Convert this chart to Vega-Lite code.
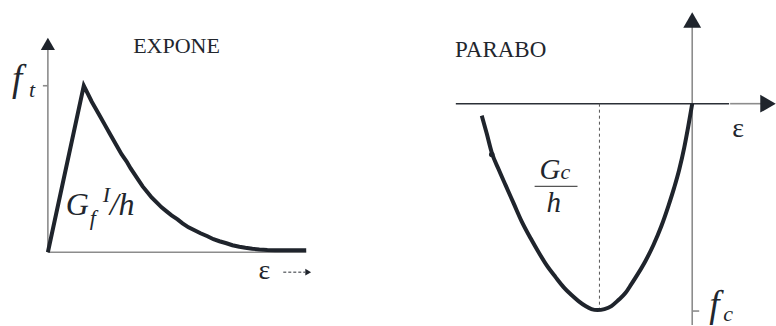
{
  "$schema": "https://vega.github.io/schema/vega-lite/v6.json",
  "width": 776,
  "height": 326,
  "autosize": {"type": "fit", "contains": "padding"},
  "padding": 0,
  "background": "white",
  "config": {"view": {"stroke": null}},
  "encoding": {
    "x": {"field": "x", "type": "quantitative", "scale": {"domain": [0, 776]}, "axis": null},
    "y": {"field": "y", "type": "quantitative", "scale": {"domain": [0, 326], "reverse": true}, "axis": null}
  },
  "layer": [
    {
      "data": {"values": [
        {"x": 48, "y": 253, "x2": 48, "y2": 48},
        {"x": 48, "y": 253, "x2": 307, "y2": 253},
        {"x": 43, "y": 86, "x2": 48, "y2": 86},
        {"x": 694, "y": 26, "x2": 694, "y2": 326},
        {"x": 732, "y": 104, "x2": 763, "y2": 104},
        {"x": 694, "y": 312, "x2": 701, "y2": 312}
      ]},
      "mark": {"type": "rule", "color": "#8c8c8c", "strokeWidth": 1.6},
      "encoding": {"x2": {"field": "x2"}, "y2": {"field": "y2"}}
    },
    {
      "data": {"values": [
        {"x": 457, "y": 104, "x2": 731, "y2": 104}
      ]},
      "mark": {"type": "rule", "color": "#2b2f36", "strokeWidth": 1.6},
      "encoding": {"x2": {"field": "x2"}, "y2": {"field": "y2"}}
    },
    {
      "data": {"values": [
        {"x": 601, "y": 104, "x2": 601, "y2": 310}
      ]},
      "mark": {"type": "rule", "color": "#555555", "strokeWidth": 1, "strokeDash": [3, 3]},
      "encoding": {"x2": {"field": "x2"}, "y2": {"field": "y2"}}
    },
    {
      "data": {"values": [
        {"x": 284, "y": 273, "x2": 306, "y2": 273}
      ]},
      "mark": {"type": "rule", "color": "#2b2f36", "strokeWidth": 1, "strokeDash": [3, 2]},
      "encoding": {"x2": {"field": "x2"}, "y2": {"field": "y2"}}
    },
    {
      "data": {"values": [
        {"c": "EXPONE", "o": 1, "x": 48, "y": 253},
        {"c": "EXPONE", "o": 2, "x": 84, "y": 86},
        {"c": "EXPONE", "o": 3, "x": 88, "y": 94},
        {"c": "EXPONE", "o": 4, "x": 92, "y": 102},
        {"c": "EXPONE", "o": 5, "x": 96, "y": 109},
        {"c": "EXPONE", "o": 6, "x": 100, "y": 116},
        {"c": "EXPONE", "o": 7, "x": 105, "y": 125},
        {"c": "EXPONE", "o": 8, "x": 110, "y": 134},
        {"c": "EXPONE", "o": 9, "x": 114, "y": 141},
        {"c": "EXPONE", "o": 10, "x": 118, "y": 148},
        {"c": "EXPONE", "o": 11, "x": 122, "y": 155},
        {"c": "EXPONE", "o": 12, "x": 127, "y": 162},
        {"c": "EXPONE", "o": 13, "x": 131, "y": 169},
        {"c": "EXPONE", "o": 14, "x": 135, "y": 175},
        {"c": "EXPONE", "o": 15, "x": 139, "y": 181},
        {"c": "EXPONE", "o": 16, "x": 143, "y": 187},
        {"c": "EXPONE", "o": 17, "x": 148, "y": 193},
        {"c": "EXPONE", "o": 18, "x": 152, "y": 198},
        {"c": "EXPONE", "o": 19, "x": 157, "y": 203},
        {"c": "EXPONE", "o": 20, "x": 162, "y": 208},
        {"c": "EXPONE", "o": 21, "x": 167, "y": 212},
        {"c": "EXPONE", "o": 22, "x": 172, "y": 216},
        {"c": "EXPONE", "o": 23, "x": 178, "y": 220},
        {"c": "EXPONE", "o": 24, "x": 183, "y": 224},
        {"c": "EXPONE", "o": 25, "x": 189, "y": 228},
        {"c": "EXPONE", "o": 26, "x": 195, "y": 231},
        {"c": "EXPONE", "o": 27, "x": 201, "y": 234},
        {"c": "EXPONE", "o": 28, "x": 208, "y": 237},
        {"c": "EXPONE", "o": 29, "x": 214, "y": 240},
        {"c": "EXPONE", "o": 30, "x": 220, "y": 242},
        {"c": "EXPONE", "o": 31, "x": 227, "y": 244},
        {"c": "EXPONE", "o": 32, "x": 233, "y": 246},
        {"c": "EXPONE", "o": 33, "x": 240, "y": 247.5},
        {"c": "EXPONE", "o": 34, "x": 246, "y": 248.5},
        {"c": "EXPONE", "o": 35, "x": 253, "y": 249.5},
        {"c": "EXPONE", "o": 36, "x": 260, "y": 250.2},
        {"c": "EXPONE", "o": 37, "x": 268, "y": 250.7},
        {"c": "EXPONE", "o": 38, "x": 276, "y": 251},
        {"c": "EXPONE", "o": 39, "x": 290, "y": 251},
        {"c": "EXPONE", "o": 40, "x": 307, "y": 251}
      ]},
      "mark": {"type": "line", "color": "#1f242c", "strokeWidth": 4, "strokeJoin": "miter", "strokeMiterLimit": 10, "strokeCap": "butt", "interpolate": "linear"},
      "encoding": {"detail": {"field": "c"}, "order": {"field": "o", "type": "quantitative"}}
    },
    {
      "data": {"values": [
        {"c": "PARABO", "o": 1, "x": 483, "y": 116},
        {"c": "PARABO", "o": 2, "x": 488, "y": 134},
        {"c": "PARABO", "o": 3, "x": 493, "y": 153},
        {"c": "PARABO", "o": 4, "x": 500, "y": 170},
        {"c": "PARABO", "o": 5, "x": 507, "y": 186},
        {"c": "PARABO", "o": 6, "x": 515, "y": 204},
        {"c": "PARABO", "o": 7, "x": 523, "y": 222},
        {"c": "PARABO", "o": 8, "x": 532, "y": 239},
        {"c": "PARABO", "o": 9, "x": 540, "y": 253},
        {"c": "PARABO", "o": 10, "x": 548, "y": 266},
        {"c": "PARABO", "o": 11, "x": 557, "y": 278},
        {"c": "PARABO", "o": 12, "x": 565, "y": 288},
        {"c": "PARABO", "o": 13, "x": 573, "y": 296},
        {"c": "PARABO", "o": 14, "x": 580, "y": 302},
        {"c": "PARABO", "o": 15, "x": 587, "y": 307},
        {"c": "PARABO", "o": 16, "x": 593, "y": 310},
        {"c": "PARABO", "o": 17, "x": 599, "y": 311},
        {"c": "PARABO", "o": 18, "x": 606, "y": 310},
        {"c": "PARABO", "o": 19, "x": 613, "y": 307},
        {"c": "PARABO", "o": 20, "x": 620, "y": 301},
        {"c": "PARABO", "o": 21, "x": 627, "y": 294},
        {"c": "PARABO", "o": 22, "x": 633, "y": 285},
        {"c": "PARABO", "o": 23, "x": 640, "y": 274},
        {"c": "PARABO", "o": 24, "x": 647, "y": 262},
        {"c": "PARABO", "o": 25, "x": 655, "y": 246},
        {"c": "PARABO", "o": 26, "x": 663, "y": 227},
        {"c": "PARABO", "o": 27, "x": 670, "y": 207},
        {"c": "PARABO", "o": 28, "x": 676, "y": 188},
        {"c": "PARABO", "o": 29, "x": 681, "y": 170},
        {"c": "PARABO", "o": 30, "x": 686, "y": 148},
        {"c": "PARABO", "o": 31, "x": 690, "y": 127},
        {"c": "PARABO", "o": 32, "x": 694, "y": 104}
      ]},
      "mark": {"type": "line", "color": "#1f242c", "strokeWidth": 4, "strokeJoin": "round", "strokeCap": "butt", "interpolate": "monotone"},
      "encoding": {"detail": {"field": "c"}, "order": {"field": "o", "type": "quantitative"}}
    },
    {
      "data": {"values": [
        {"x": 493, "y": 155}
      ]},
      "mark": {"type": "point", "shape": "circle", "filled": true, "color": "#1f242c", "opacity": 1},
      "encoding": {"size": {"value": 30}}
    },
    {
      "data": {"values": [
        {"x": 48, "y": 44}
      ]},
      "mark": {"type": "point", "shape": "triangle-up", "filled": true, "color": "#1f242c", "opacity": 1},
      "encoding": {"size": {"value": 200}}
    },
    {
      "data": {"values": [
        {"x": 694, "y": 20}
      ]},
      "mark": {"type": "point", "shape": "triangle-up", "filled": true, "color": "#1f242c", "opacity": 1},
      "encoding": {"size": {"value": 320}}
    },
    {
      "data": {"values": [
        {"x": 770, "y": 104}
      ]},
      "mark": {"type": "point", "shape": "triangle-right", "filled": true, "color": "#1f242c", "opacity": 1},
      "encoding": {"size": {"value": 320}}
    },
    {
      "data": {"values": [
        {"x": 309, "y": 273}
      ]},
      "mark": {"type": "point", "shape": "triangle-right", "filled": true, "color": "#1f242c", "opacity": 1},
      "encoding": {"size": {"value": 45}}
    },
    {
      "data": {"values": [
        {"x": 177, "y": 53, "t": "EXPONE"}
      ]},
      "mark": {"type": "text", "font": "Liberation Serif", "fontSize": 22, "align": "center", "baseline": "alphabetic", "color": "#22262d"},
      "encoding": {"text": {"field": "t"}}
    },
    {
      "data": {"values": [
        {"x": 502, "y": 57, "t": "PARABO"}
      ]},
      "mark": {"type": "text", "font": "Liberation Serif", "fontSize": 23, "align": "center", "baseline": "alphabetic", "color": "#22262d"},
      "encoding": {"text": {"field": "t"}}
    },
    {
      "data": {"values": [
        {"x": 12, "y": 91, "t": "f"},
        {"x": 711, "y": 318, "t": "f"}
      ]},
      "mark": {"type": "text", "font": "Liberation Serif", "fontStyle": "italic", "fontSize": 37, "align": "left", "baseline": "alphabetic", "color": "#22262d"},
      "encoding": {"text": {"field": "t"}}
    },
    {
      "data": {"values": [
        {"x": 66, "y": 216, "t": "G"},
        {"x": 110, "y": 216, "t": "/h"}
      ]},
      "mark": {"type": "text", "font": "Liberation Serif", "fontStyle": "italic", "fontSize": 32, "align": "left", "baseline": "alphabetic", "color": "#22262d"},
      "encoding": {"text": {"field": "t"}}
    },
    {
      "data": {"values": [
        {"x": 541, "y": 180, "t": "G"},
        {"x": 548, "y": 213, "t": "h"}
      ]},
      "mark": {"type": "text", "font": "Liberation Serif", "fontStyle": "italic", "fontSize": 29, "align": "left", "baseline": "alphabetic", "color": "#22262d"},
      "encoding": {"text": {"field": "t"}}
    },
    {
      "data": {"values": [
        {"x": 29, "y": 97, "t": "t"},
        {"x": 90, "y": 226, "t": "f"},
        {"x": 103, "y": 203, "t": "I"},
        {"x": 562, "y": 180, "t": "c"},
        {"x": 725, "y": 322, "t": "c"}
      ]},
      "mark": {"type": "text", "font": "Liberation Serif", "fontStyle": "italic", "fontSize": 22, "align": "left", "baseline": "alphabetic", "color": "#22262d"},
      "encoding": {"text": {"field": "t"}}
    },
    {
      "data": {"values": [
        {"x": 536, "y": 187, "x2": 579, "y2": 187}
      ]},
      "mark": {"type": "rule", "color": "#555555", "strokeWidth": 1.2},
      "encoding": {"x2": {"field": "x2"}, "y2": {"field": "y2"}}
    },
    {
      "data": {"values": [
        {"x": 265, "y": 280, "t": "ε"},
        {"x": 740, "y": 137, "t": "ε"}
      ]},
      "mark": {"type": "text", "font": "Liberation Serif", "fontSize": 28, "align": "center", "baseline": "alphabetic", "color": "#22262d"},
      "encoding": {"text": {"field": "t"}}
    }
  ]
}
